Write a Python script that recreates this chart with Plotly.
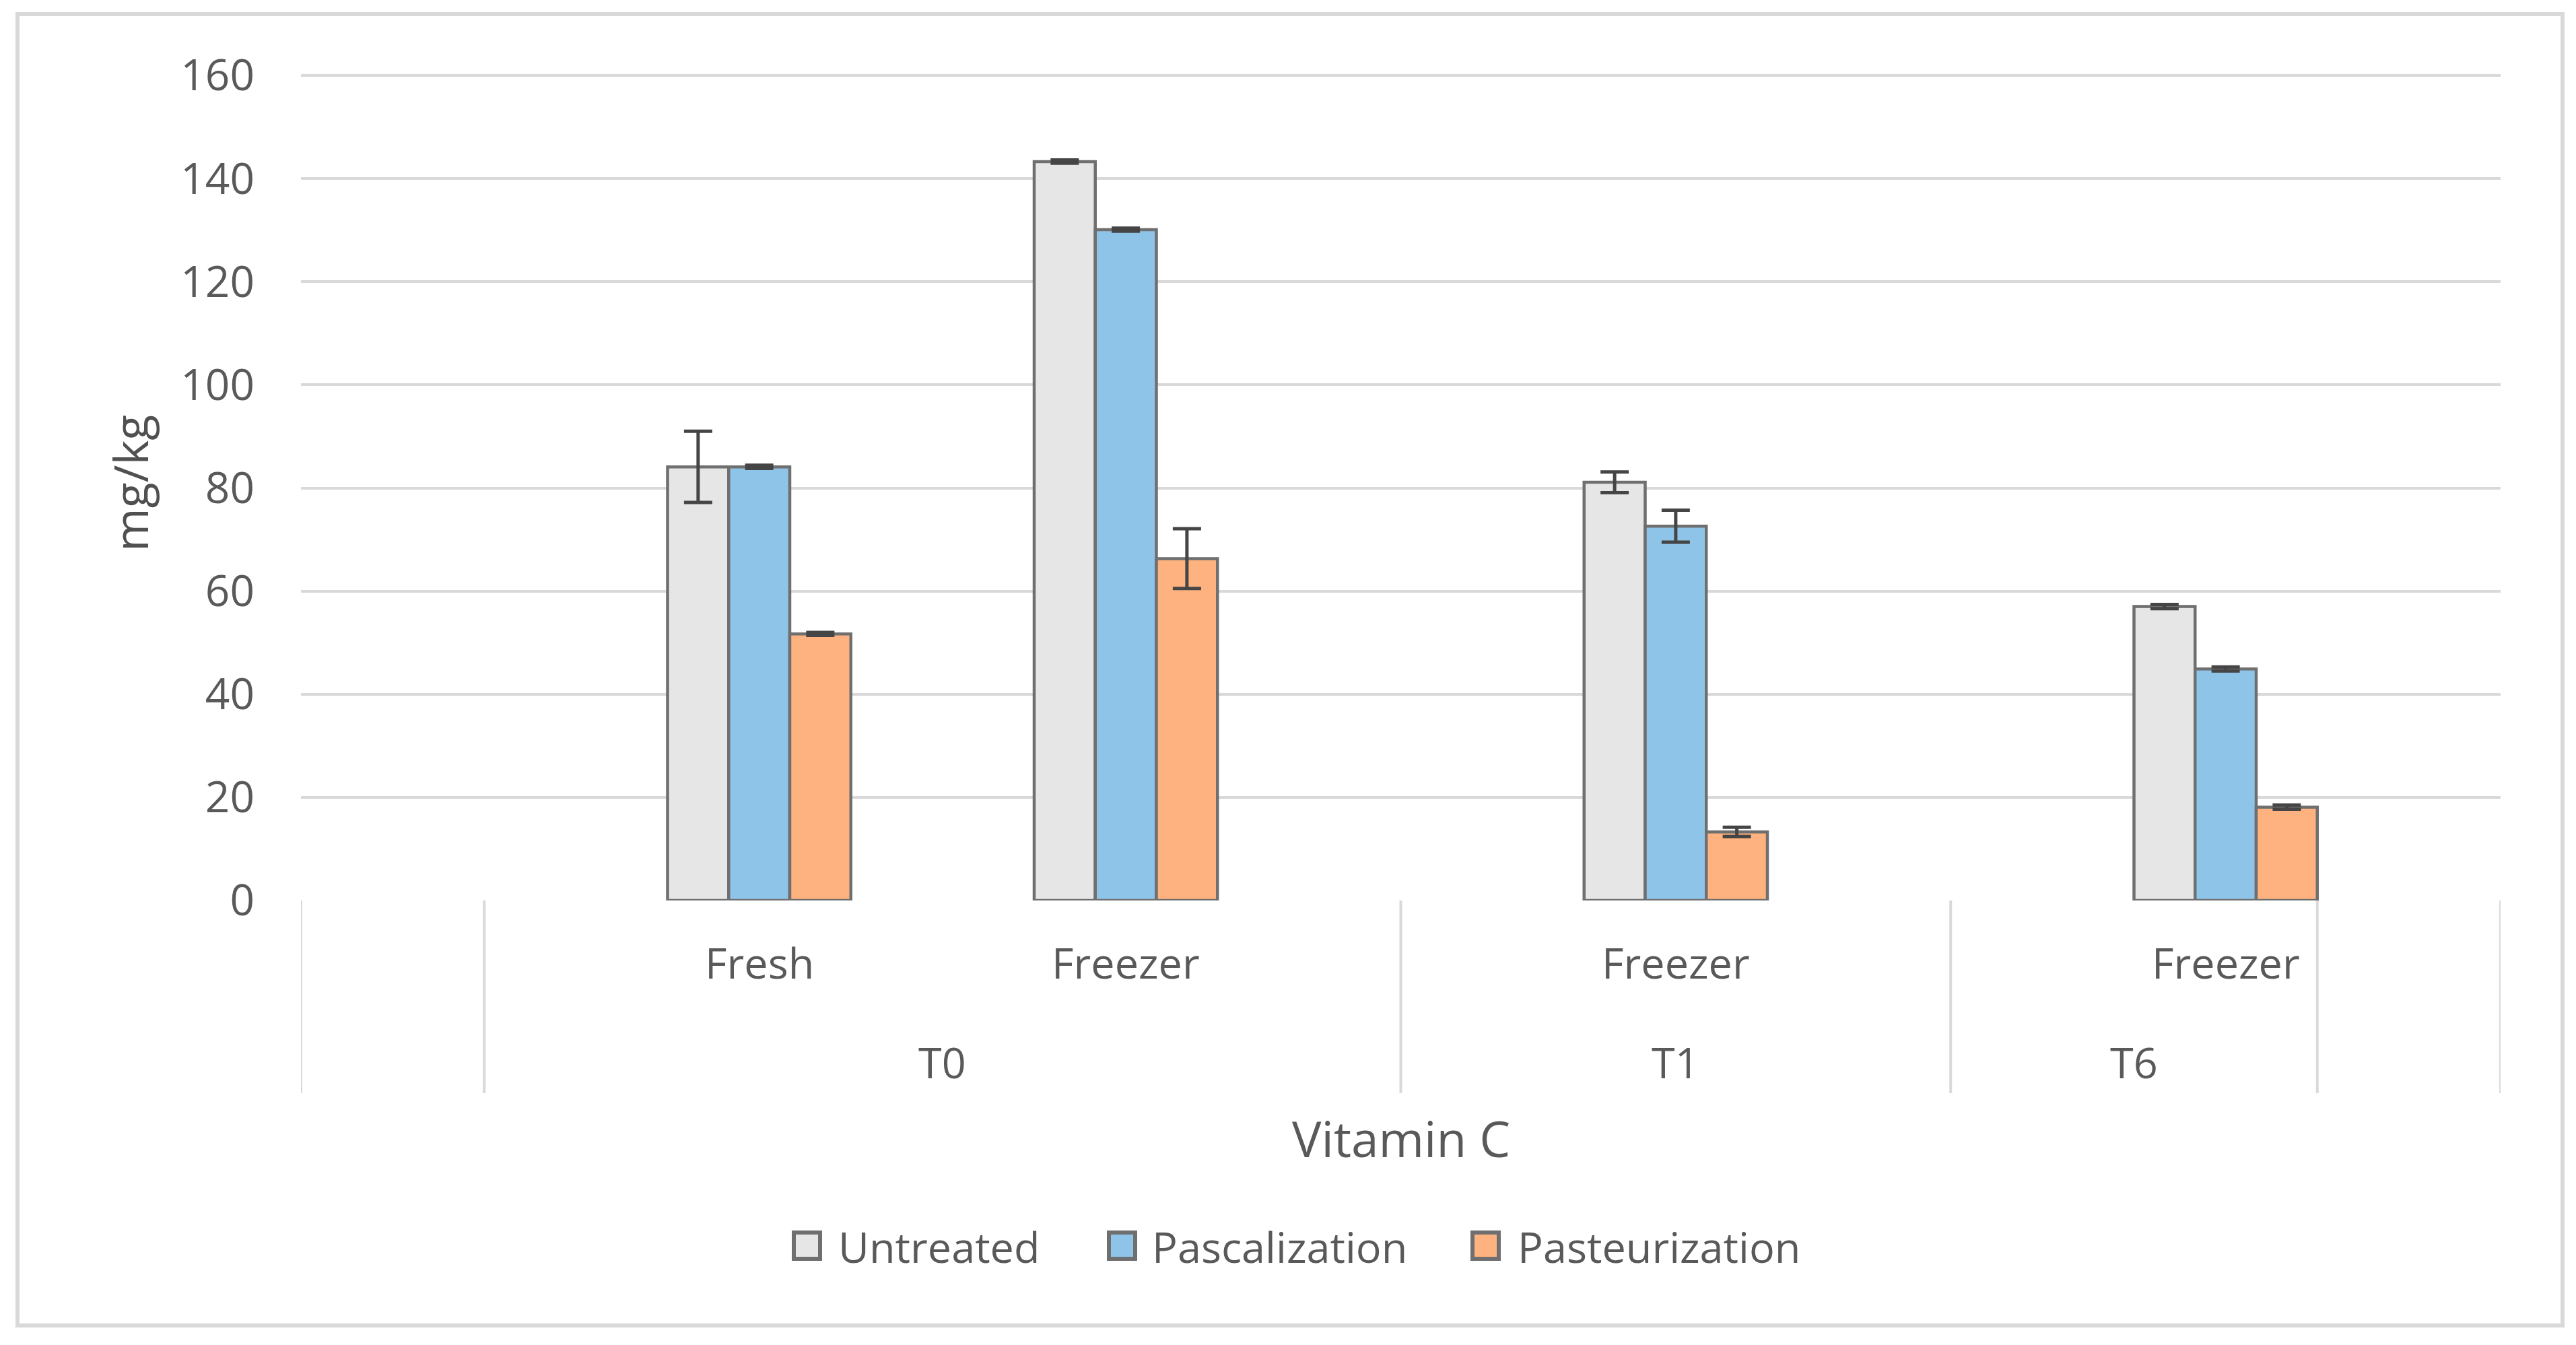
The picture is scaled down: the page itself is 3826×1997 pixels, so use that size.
import plotly.graph_objects as go

# ---------------- data ----------------
series_names = ["Untreated", "Pascalization", "Pasteurization"]
sub_labels = ["Fresh", "Freezer", "Freezer", "Freezer"]
bar_slots = [2, 4, 7, 10]          # category slot (of 12) holding each bar group
n_slots = 12
group_labels = ["T0", "T1", "T6"]
group_starts = [1, 6, 9]
group_ends = [6, 9, 11]
outer_bounds = [0, 12]

untreated = [84.1, 143.3, 81.1, 57.0]
untreated_err = [6.9, 0.3, 2.0, 0.4]
pascalization = [84.1, 130.1, 72.6, 44.9]
pascalization_err = [0.3, 0.3, 3.1, 0.4]
pasteurization = [51.7, 66.3, 13.3, 18.1]
pasteurization_err = [0.3, 5.8, 0.9, 0.4]

y_ticks = [0, 20, 40, 60, 80, 100, 120, 140, 160]
y_max = 160.4
y_title = "mg/kg"
x_title = "Vitamin C"

# ---------------- style ----------------
colors = ["#E7E6E6", "#8FC4E9", "#FEB27F"]
edge = "#6F6F6F"
err_col = "#454545"
grid = "#D9D9D9"
txt = "#595959"
FONT = "Open Sans"

W, H = 3826, 1997
L, R, T, B = 447, 112, 109, 660
PW, PH = W - L - R, H - T - B


def px(x):
    return (x - L) / PW


def py(y):
    return (H - B - y) / PH


fig = go.Figure()
values = [untreated, pascalization, pasteurization]
errors = [untreated_err, pascalization_err, pasteurization_err]
centers = [s + 0.5 for s in bar_slots]
for k in range(3):
    fig.add_trace(go.Bar(
        x=centers, y=values[k], name=series_names[k],
        width=1 / 3, offset=-0.5 + k / 3,
        marker=dict(color=colors[k], line=dict(color=edge, width=4.5)),
        error_y=dict(type="data", array=errors[k], visible=True,
                     color=err_col, thickness=5, width=21),
        showlegend=False,
    ))

shapes = []
# category-axis separators
for b in group_starts + group_ends[-1:] + outer_bounds:
    shapes.append(dict(type="line", xref="x", yref="paper", x0=b, x1=b,
                       y0=0, y1=py(1623), line=dict(color=grid, width=4)))
# outer chart border
shapes.append(dict(type="rect", xref="paper", yref="paper",
                   x0=px(26), x1=px(3806), y0=py(1968), y1=py(21),
                   line=dict(color=grid, width=6), fillcolor="rgba(0,0,0,0)"))

annotations = []
for c, lab in zip(centers, sub_labels):
    annotations.append(dict(x=c, y=py(1428), xref="x", yref="paper", text=lab,
                            showarrow=False, xanchor="center", yanchor="middle",
                            font=dict(family=FONT, size=63, color=txt)))
for s, e, lab in zip(group_starts, group_ends, group_labels):
    annotations.append(dict(x=(s + e) / 2, y=py(1576), xref="x", yref="paper", text=lab,
                            showarrow=False, xanchor="center", yanchor="middle",
                            font=dict(family=FONT, size=63, color=txt)))
annotations.append(dict(x=n_slots / 2, y=py(1689), xref="x", yref="paper", text=x_title,
                        showarrow=False, xanchor="center", yanchor="middle",
                        font=dict(family=FONT, size=73, color=txt)))
annotations.append(dict(x=px(193), y=py(718), xref="paper", yref="paper", text=y_title,
                        showarrow=False, xanchor="center", yanchor="middle", textangle=-90,
                        font=dict(family=FONT, size=70, color="#505050")))

# manual legend
leg_box_x = [1176, 1644, 2184]
leg_txt_x = [1243, 1709, 2252]
for k in range(3):
    shapes.append(dict(type="rect", xref="paper", yref="paper",
                       x0=px(leg_box_x[k] + 3), x1=px(leg_box_x[k] + 42),
                       y0=py(1869), y1=py(1830),
                       line=dict(color=edge, width=6), fillcolor=colors[k]))
    annotations.append(dict(x=px(leg_txt_x[k]), y=py(1850), xref="paper", yref="paper",
                            text=series_names[k], showarrow=False,
                            xanchor="left", yanchor="middle",
                            font=dict(family=FONT, size=63, color=txt)))

fig.update_layout(
    width=W, height=H,
    margin=dict(l=L, r=R, t=T, b=B, pad=0),
    paper_bgcolor="white", plot_bgcolor="white",
    font=dict(family=FONT, size=63, color=txt),
    xaxis=dict(range=[0, n_slots], showticklabels=False, showgrid=False,
               zeroline=False, showline=False, fixedrange=True),
    yaxis=dict(range=[0, y_max], tickvals=y_ticks, showgrid=True, gridcolor=grid,
               gridwidth=4, zeroline=False, showline=False,
               tickfont=dict(family=FONT, size=64, color=txt),
               ticklabelstandoff=68),
    shapes=shapes, annotations=annotations,
    showlegend=False,
)

fig.write_html("out.html", config={"displayModeBar": False},
               post_script="document.body.style.margin='0';document.body.style.overflow='hidden';")
